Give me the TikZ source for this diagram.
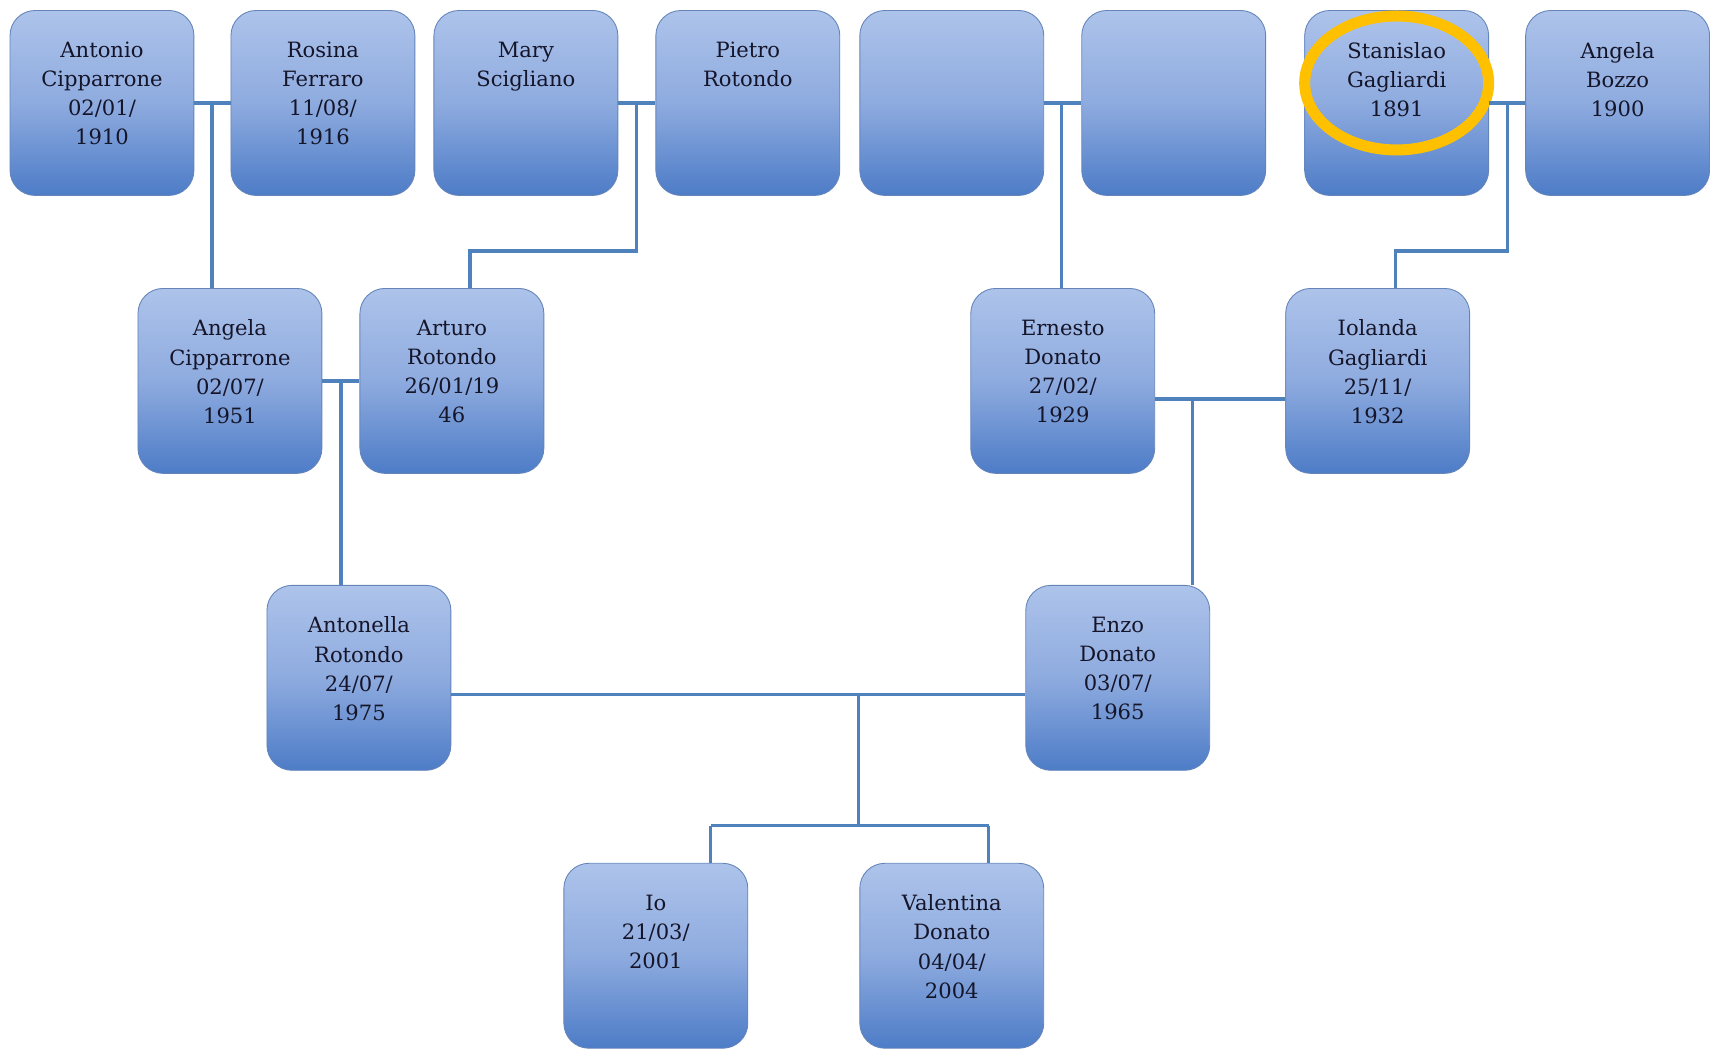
\documentclass[tikz,border=0pt]{standalone}
\usepackage{fontspec}
\setmainfont{DejaVu Serif}
\definecolor{boxtop}{HTML}{ADC3EA}
\definecolor{boxmid}{HTML}{8EABDF}
\definecolor{boxbot}{HTML}{4D7CC7}
\definecolor{boxline}{HTML}{6585BA}
\definecolor{linea}{HTML}{4F81BD}
\definecolor{testo}{HTML}{15152A}
\definecolor{oro}{HTML}{FFC000}
\tikzset{
  persona/.style={rounded corners=0.5cm, draw=boxline, line width=0.5pt,
    top color=boxtop, bottom color=boxbot, middle color=boxmid,
    minimum width=3.68cm, minimum height=3.7cm, inner sep=0pt,
    text=testo, font=\fontsize{12}{16.6}\selectfont},
  legame/.style={draw=linea, line width=0.065cm}
}
\newcommand{\nome}[1]{\parbox[c][2.44cm][t]{3.6cm}{\centering #1}}
\begin{document}
\begin{tikzpicture}[x=0.02cm,y=-0.02cm]
\fill[white] (0,0) rectangle (1710,1050);

\node[persona] (antonio) at (102,103) {\nome{Antonio\\Cipparrone\\02/01/\\1910}};
\node[persona] (rosina) at (323,103) {\nome{Rosina\\Ferraro\\11/08/\\1916}};
\node[persona] (mary) at (526,103) {\nome{Mary\\Scigliano}};
\node[persona] (pietro) at (748,103) {\nome{Pietro\\Rotondo}};
\node[persona] (ignoto1) at (952,103) {\nome{}};
\node[persona] (ignoto2) at (1174,103) {\nome{}};
\node[persona] (stanislao) at (1397,103) {\nome{Stanislao\\Gagliardi\\1891}};
\node[persona] (bozzo) at (1618,103) {\nome{Angela\\Bozzo\\1900}};

\node[persona] (angela) at (230,381) {\nome{Angela\\Cipparrone\\02/07/\\1951}};
\node[persona] (arturo) at (452,381) {\nome{Arturo\\Rotondo\\26/01/19\\46}};
\node[persona] (ernesto) at (1063,381) {\nome{Ernesto\\Donato\\27/02/\\1929}};
\node[persona] (iolanda) at (1378,381) {\nome{Iolanda\\Gagliardi\\25/11/\\1932}};

\node[persona] (antonella) at (359,678) {\nome{Antonella\\Rotondo\\24/07/\\1975}};
\node[persona] (enzo) at (1118,678) {\nome{Enzo\\Donato\\03/07/\\1965}};

\node[persona] (io) at (656,956) {\nome{Io\\21/03/\\2001}};
\node[persona] (valentina) at (952,956) {\nome{Valentina\\Donato\\04/04/\\2004}};

\draw[oro, line width=0.22cm] (1397,83) ellipse [x radius=92, y radius=67];

\coordinate (j1) at (212,103);
\coordinate (j2) at (637,103);
\coordinate (k2) at (470,251);
\coordinate (j3) at (1062,103);
\coordinate (j4) at (1508,103);
\coordinate (k4) at (1396,251);
\coordinate (j5) at (341,381);
\coordinate (j6) at (1193,399);
\coordinate (j7) at (859,695);
\coordinate (k7) at (859,826);
\coordinate (f1) at (711,826);
\coordinate (f2) at (989,826);

\draw[legame] (antonio)--(rosina);
\draw[legame] (j1)--(j1 |- angela.north);
\draw[legame] (mary)--(pietro);
\draw[legame] (j2) |- (k2)--(k2 |- arturo.north);
\draw[legame] (ignoto1)--(ignoto2);
\draw[legame] (j3)--(j3 |- ernesto.north);
\draw[legame] (stanislao)--(bozzo);
\draw[legame] (j4) |- (k4)--(k4 |- iolanda.north);

\draw[legame] (angela)--(arturo);
\draw[legame] (j5)--(j5 |- antonella.north);
\draw[legame] (ernesto.east |- j6)--(iolanda.west |- j6);
\draw[legame] (j6)--(j6 |- enzo.north);

\draw[legame] (antonella.east |- j7)--(enzo.west |- j7);
\draw[legame] (j7)--(k7);
\draw[legame] (f1)--(f2);
\draw[legame] (f1)--(f1 |- io.north);
\draw[legame] (f2)--(f2 |- valentina.north);
\end{tikzpicture}
\end{document}
